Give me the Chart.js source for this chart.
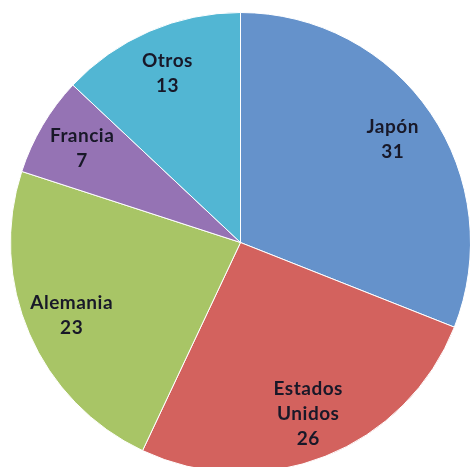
<!DOCTYPE html>
<html>
<head>
<meta charset="utf-8">
<script src="https://cdn.jsdelivr.net/npm/chart.js@4.4.0/dist/chart.umd.min.js"></script>
<style>
  html, body { margin: 0; padding: 0; background: #ffffff; overflow: hidden; width: 470px; height: 467px; }
  #contenedor { position: absolute; left: 10px; top: 12px; width: 461px; height: 461px; }
</style>
</head>
<body>
<div id="contenedor"><canvas id="graficaPaises"></canvas></div>
<script>
// datos de la grafica
const paises = [['Japón'], ['Estados', 'Unidos'], ['Alemania'], ['Francia'], ['Otros']];
const valores = [31, 26, 23, 7, 13];
const colores = ['#6592cb', '#d3625e', '#a8c566', '#9573b4', '#52b6d3'];

// etiquetas dentro de cada rebanada
const etiquetasPlugin = {
    id: 'etiquetasPlugin',
    afterDatasetsDraw(chart) {
        const ctx = chart.ctx;
        const meta = chart.getDatasetMeta(0);
        ctx.save();
        ctx.font = 'bold 19px Lato, "Open Sans", sans-serif';
        ctx.letterSpacing = '0.5px';
        ctx.fillStyle = '#181828';
        ctx.textAlign = 'center';
        ctx.textBaseline = 'middle';
        meta.data.forEach(function (arco, i) {
            const p = arco.getProps(['x', 'y', 'startAngle', 'endAngle', 'outerRadius']);
            const medio = (p.startAngle + p.endAngle) / 2;
            const r = p.outerRadius * 0.8;
            const cx = p.x + Math.cos(medio) * r;
            const cy = p.y + Math.sin(medio) * r;
            const lineas = paises[i].concat([String(valores[i])]);
            const alto = 25;
            const y0 = cy - (lineas.length - 1) * alto / 2;
            lineas.forEach(function (texto, j) {
                ctx.fillText(texto, cx, y0 + j * alto);
            });
        });
        ctx.restore();
    }
};

new Chart(document.getElementById('graficaPaises').getContext('2d'), {
    type: 'pie',
    data: {
        labels: paises.map(function (l) { return l.join(' '); }),
        datasets: [{
            data: valores,
            backgroundColor: colores,
            borderColor: '#ffffff',
            borderWidth: 1,
            hoverOffset: 0
        }]
    },
    options: {
        responsive: true,
        maintainAspectRatio: false,
        animation: false,
        layout: { padding: 0 },
        plugins: {
            legend: { display: false },
            tooltip: { enabled: false }
        }
    },
    plugins: [etiquetasPlugin]
});
</script>
</body>
</html>
